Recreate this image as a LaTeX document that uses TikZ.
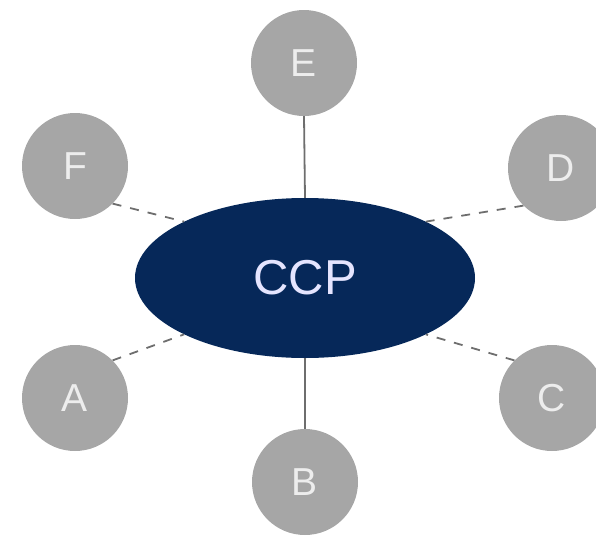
\documentclass[tikz,border=0pt]{standalone}
\usepackage{fontspec}
\setmainfont{Liberation Sans}
\usetikzlibrary{shapes.geometric}
\definecolor{ccpblue}{HTML}{062859}
\definecolor{ballgray}{HTML}{A6A6A6}
\definecolor{linkgray}{HTML}{6E6E6E}

\begin{document}
\begin{tikzpicture}[x=1pt,y=-1pt,
	ball/.style={circle,fill=ballgray,minimum size=106pt,inner sep=0pt,
		text=white!93!black,font=\fontsize{39}{39}\selectfont},
	hub/.style={ellipse,fill=ccpblue,minimum width=340pt,minimum height=160pt,
		inner sep=0pt,text=white!90!blue,font=\fontsize{49}{49}\selectfont},
	link/.style={draw=linkgray,line width=1.8pt},
	dlink/.style={link,dash pattern=on 9pt off 9pt}]
\useasboundingbox (0,0) rectangle (596,536);
\node[hub] (ccp) at (305,278) {CCP};
\node[ball] (E) at (304,63) {E};
\node[ball] (F) at (75,166) {F};
\node[ball] (D) at (561,168) {D};
\node[ball] (A) at (75,398) {A};
\node[ball] (C) at (552,398) {C};
\node[ball] (B) at (305,482) {B};
% spokes
\draw[link] (E.south) -- (ccp.north);
\draw[link] (B.north) -- (ccp.south);
\draw[dlink] (F.-45) -- (ccp.155);
\draw[dlink] (D.225) -- (ccp.25);
\draw[dlink] (A.45) -- (ccp.205);
\draw[dlink] (C.135) -- (ccp.335);
\end{tikzpicture}
\end{document}
